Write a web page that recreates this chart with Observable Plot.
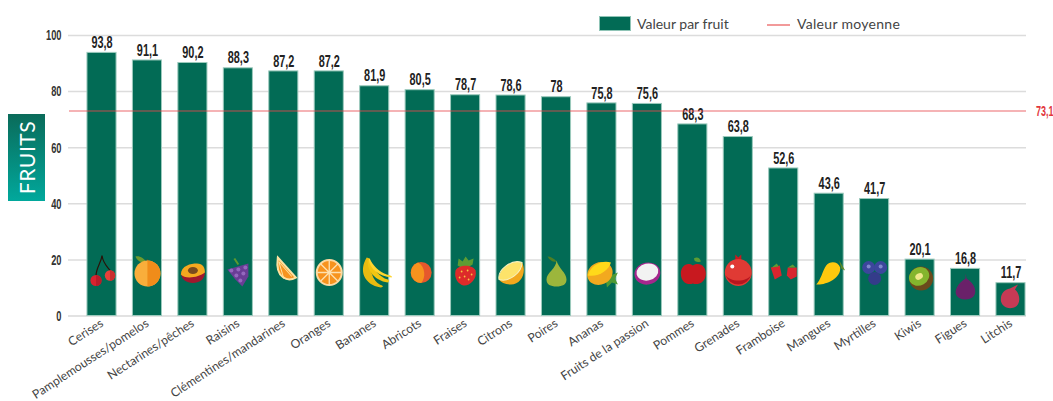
<!DOCTYPE html>
<html><head><meta charset="utf-8">
<script src="https://cdn.jsdelivr.net/npm/d3@7"></script>
<script src="https://cdn.jsdelivr.net/npm/@observablehq/plot@0.6"></script>
<style>
html,body{margin:0;padding:0;background:#fff;overflow:hidden}
#wrap{position:relative;width:1053px;height:401px;overflow:hidden}
.badge{position:absolute;left:8px;top:114px;width:37px;height:87px;background:linear-gradient(#0a6b5a,#01a89c);display:flex;align-items:center;justify-content:center}
.badge span{transform:rotate(-90deg);color:#fff;font:400 21px "Lato";letter-spacing:.6px;white-space:nowrap}
.lg{position:absolute;font:14px "Lato";color:#444;white-space:nowrap;line-height:16px}
.sw{position:absolute;left:599px;top:16px;width:32px;height:15px;background:#026b55;border:1px solid #8fc4b6;box-sizing:border-box}
.ln{position:absolute;left:767px;top:24px;width:23px;height:1.5px;background:#f29a9a}
</style></head><body><div id="wrap"></div>
<script>
const fruits=["Cerises","Pamplemousses/pomelos","Nectarines/pêches","Raisins","Clémentines/mandarines","Oranges","Bananes","Abricots","Fraises","Citrons","Poires","Ananas","Fruits de la passion","Pommes","Grenades","Framboise","Mangues","Myrtilles","Kiwis","Figues","Litchis"];
const values=[93.8,91.1,90.2,88.3,87.2,87.2,81.9,80.5,78.7,78.6,78,75.8,75.6,68.3,63.8,52.6,43.6,41.7,20.1,16.8,11.7];
const mean=73.1;
const yTicks=[0,20,40,60,80,100];
const icons=[
`<path d="M20 3C19 11 14 15 14 24M20 3C21 11 25 14 29 19" fill="none" stroke="#2a1208" stroke-width="1.2"/><circle cx="14" cy="28" r="5.6" fill="#d8232f"/><path d="M14 22.4A5.6 5.6 0 0 1 14 33.6Z" fill="#b81c2a"/><circle cx="28" cy="23" r="5.2" fill="#e8403a"/><path d="M28 17.8A5.2 5.2 0 0 1 28 28.2Z" fill="#c92e2e"/>`,
`<path d="M8 4C12 3 17 6 19 10C15 11 10 9 8 4Z" fill="#6f9a2d"/><path d="M20 7V11" stroke="#7a4a1e" stroke-width="1.4"/><circle cx="20" cy="21" r="13" fill="#f9ae3b"/><path d="M20 8A13 13 0 0 1 20 34Z" fill="#f08c1a"/>`,
`<path d="M8 20C8 34 32 34 32 20Z" fill="#a0182e"/><path d="M8 22C8 13 18 11 24 11C30 11 32 15 32 20C26 25 12 27 8 22Z" fill="#f5a81f"/><ellipse cx="20" cy="18" rx="5" ry="3.5" fill="#7a4a1e"/>`,
`<path d="M16 6L20 12" stroke="#5e9a2e" stroke-width="2"/><path d="M9 17L30 11L30 24L24 34L17 27Z" fill="#6a3d96"/><g fill="#9468bd"><circle cx="13" cy="18" r="2"/><circle cx="20" cy="17" r="2"/><circle cx="27" cy="15" r="2"/><circle cx="18" cy="23" r="2"/><circle cx="25" cy="21" r="2"/><circle cx="22" cy="28" r="2"/></g>`,
`<path d="M14 5L32 25C25 29 11 27 14 5Z" fill="#f7931e" stroke="#fde1a0" stroke-width="2"/><path d="M15 9L20 26M15 9L28 24" stroke="#fde1a0" stroke-width="1"/>`,
`<circle cx="20" cy="20" r="12.5" fill="#f7931e" stroke="#fdd9a0" stroke-width="2"/><path d="M20 8V32M8 20H32M11.5 11.5L28.5 28.5M28.5 11.5L11.5 28.5" stroke="#fde1b0" stroke-width="1.3"/>`,
`<path d="M12 5C4 18 9 32 26 35C30 34 28 33 25 32C18 28 15 18 15 6Z" fill="#e8bb10"/><path d="M13 7C12 18 20 28 33 30C36 28 34 27 30 26C23 22 17 15 15 7Z" fill="#f2c511"/><path d="M14 7C15 16 24 24 37 25C38 23 35 23 32 22C24 19 18 13 15 6Z" fill="#ffd52e"/>`,
`<circle cx="21" cy="20" r="10.5" fill="#e6582c"/><path d="M18 10A10.5 10.5 0 0 0 21 30.5C26 25 25 14 18 10Z" fill="#f7931e"/>`,
`<path d="M13 6L17 9L20 4L23 8L28 6L27 12L19 17L12 13Z" fill="#5d9c33"/><path d="M10 18C12 12 27 11 30 18C32 27 23 34 18 33C13 32 8 26 10 18Z" fill="#dd2a2a"/><g fill="#f5c542"><circle cx="16" cy="19" r=".9"/><circle cx="22" cy="18" r=".9"/><circle cx="26" cy="22" r=".9"/><circle cx="19" cy="24" r=".9"/><circle cx="14" cy="25" r=".9"/><circle cx="23" cy="27" r=".9"/></g>`,
`<path d="M8 27C18 28 30 20 31 10C36 20 30 32 20 32C14 32 10 30 8 27Z" fill="#f2a81d"/><path d="M8 27C6 18 20 6 31 10C31 20 18 30 8 27Z" fill="#fde36a" stroke="#f8f2c0"/>`,
`<path d="M11 4C14 4 18 6 20 9C17 10 13 8 11 4Z" fill="#4f7f24"/><path d="M20 8C20 16 10 20 10 27C10 32 14 34 20 34C26 34 30 32 30 27C30 20 22 16 20 8Z" fill="#9cb63c"/>`,
`<path d="M26 24L36 20L33 26L36 32L30 30L25 35L24 28Z" fill="#4f9a34"/><ellipse cx="18" cy="21" rx="13" ry="11" fill="#f2a91f" transform="rotate(-25 18 21)"/><path d="M6 23C8 13 20 7 29 10C27 18 16 25 6 23Z" fill="#ffd91a"/>`,
`<ellipse cx="20" cy="21" rx="13" ry="11" fill="#a5278d" transform="rotate(-12 20 21)"/><ellipse cx="20" cy="19.5" rx="11" ry="8.5" fill="#f2f2f2" transform="rotate(-12 20 19.5)"/>`,
`<path d="M21 6C24 4 27 5 28 9C25 10 22 10 21 6Z" fill="#5d9c33"/><path d="M20 13C27 9 33 14 33 21C33 30 25 33 20 31C15 33 8 30 8 21C8 14 14 9 20 13Z" fill="#c8191f"/>`,
`<path d="M17 2L20 5L23 2L23 8H17Z" fill="#c8191f"/><circle cx="20" cy="20" r="13.5" fill="#e03a34"/><path d="M7 22A13.5 13.5 0 0 0 33 22C29 30 11 30 7 22Z" fill="#b5141f"/><circle cx="14" cy="14" r="2" fill="#fff"/>`,
`<g fill="#d9252e"><path d="M7 15L16 13L18 23L11 27Z"/><path d="M24 15L33 15L33 24L27 27L23 23Z"/></g><path d="M8 15L13 11L15 14ZM24 15L29 12L32 15Z" fill="#5d9c33"/>`,
`<path d="M30 8L36 18L32 16Z" fill="#5d8a28"/><path d="M7 32C16 33 32 26 31 15C29 9 21 8 17 13C13 19 12 27 7 32Z" fill="#ffc90e"/>`,
`<circle cx="14" cy="15" r="6.5" fill="#3c469c"/><circle cx="26" cy="15" r="6.5" fill="#3c469c"/><circle cx="20" cy="26" r="6.5" fill="#343c8a"/><circle cx="14" cy="14" r="2" fill="#8088cc"/><circle cx="26" cy="14" r="2" fill="#8088cc"/>`,
`<g transform="translate(0 -6)"><circle cx="21" cy="20" r="12" fill="#6b4a1c"/><ellipse cx="19" cy="18" rx="10.5" ry="9" fill="#84b52d" transform="rotate(-30 19 18)"/><ellipse cx="19" cy="18" rx="4" ry="3" fill="#f0e88c" transform="rotate(-30 19 18)"/></g>`,
`<g transform="translate(0 -2)"><path d="M20 6L21 11C29 16 32 24 28 29C24 33 14 33 11 28C8 23 13 15 20 11Z" fill="#6a2169"/></g>`,
`<path d="M19 11L27 7L24 12C29 16 30 25 25 29C20 32 12 31 10 24C9 17 13 12 19 11Z" fill="#c63a55"/>`
].map(s=>"data:image/svg+xml,"+encodeURIComponent(`<svg xmlns="http://www.w3.org/2000/svg" viewBox="0 0 40 40">${s}</svg>`));
const rows=fruits.map((f,i)=>({fruit:f,value:values[i],icon:icons[i],label:String(values[i]).replace(".",",")}));
const num='"Liberation Sans"';
const squeeze=k=>(index,scales,vals,dims,ctx,next)=>{
  const g=next(index,scales,vals,dims,ctx);
  g.querySelectorAll("text").forEach(t=>t.setAttribute("transform",(t.getAttribute("transform")||"")+` scale(${k},1)`));
  return g;
};
const plot=Plot.plot({
  width:1053,height:401,marginTop:35,marginBottom:85.5,marginLeft:70.6,marginRight:11.6,
  style:{background:"transparent"},
  x:{domain:fruits,padding:0.36,round:false,label:null},
  y:{domain:[0,100],label:null},
  marks:[
    Plot.ruleY(yTicks.filter(d=>d>0),{stroke:"#dcdcdc",strokeWidth:1.5,insetLeft:-2.6,insetRight:15.4}),
    Plot.ruleY([0],{stroke:"#e2e2e2",strokeWidth:2,insetLeft:-2.6,insetRight:15.4}),
    Plot.barY(rows,{x:"fruit",y:"value",fill:"#026b55",stroke:"#9ccabd",strokeWidth:1}),
    Plot.image(rows,{x:"fruit",y:d=>Math.min(15.5,d.value*0.56),src:"icon",width:40,height:40}),
    Plot.text(rows,{x:"fruit",y:"value",text:"label",dy:-10,fontSize:16,fontWeight:700,fill:"#222",fontFamily:num,render:squeeze(0.68)}),
    Plot.ruleY([mean],{stroke:"#e8474c",strokeOpacity:0.55,strokeWidth:1.5,insetLeft:-1.6,insetRight:15.4}),
    Plot.text([mean],{y:d=>d,frameAnchor:"right",text:d=>String(d).replace(".",","),dx:-6,textAnchor:"start",fontSize:15,fontWeight:700,fill:"#e2363c",fontFamily:num,render:squeeze(0.6)}),
    Plot.axisY({ticks:yTicks,tickSize:0,tickPadding:9.6,fontSize:15,fontWeight:700,fontFamily:num,color:"#333",label:null,tickFormat:d=>d,render:squeeze(0.62)}),
    Plot.axisX({tickSize:0,tickPadding:6,tickRotate:-33,fontSize:12.2,fontFamily:"Lato",color:"#444",label:null})
  ]
});
const w=document.getElementById("wrap");
w.appendChild(plot);
w.insertAdjacentHTML("beforeend",`<div class="badge"><span>FRUITS</span></div><div class="sw"></div><div class="lg" style="left:637px;top:16px">Valeur par fruit</div><div class="ln"></div><div class="lg" style="left:797px;top:16px;letter-spacing:.3px">Valeur moyenne</div>`);
plot.style.position="absolute";plot.style.left=0;plot.style.top=0;
</script></body></html>
